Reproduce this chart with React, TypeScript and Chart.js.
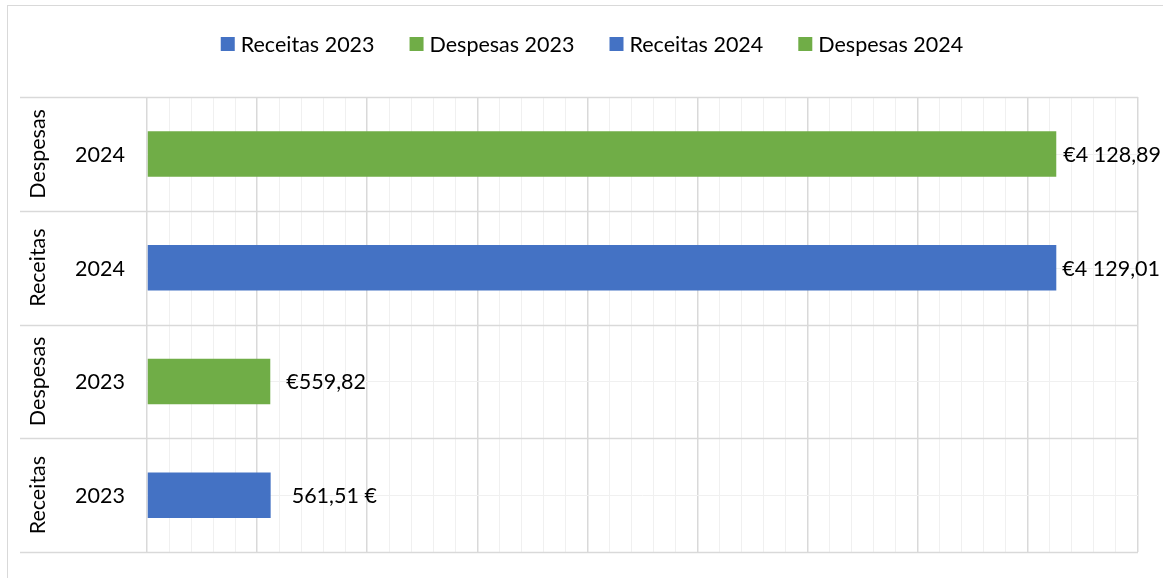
import React, { useEffect, useRef } from "react";
import { Chart, registerables } from "chart.js";

Chart.register(...registerables);

// Categories listed from bottom to top of the chart
const groups = ["Receitas", "Despesas", "Receitas", "Despesas"];
const years = ["2023", "2023", "2024", "2024"];
const values = [561.51, 559.82, 4129.01, 4128.89];
const valueLabels = ["561,51 €", "€559,82", "€4 129,01", "€4 128,89"];
const seriesNames = ["Receitas 2023", "Despesas 2023", "Receitas 2024", "Despesas 2024"];
const seriesColors = ["#4472C4", "#70AD47", "#4472C4", "#70AD47"];
const labelOffsets = [21, 16, 6, 7];

const FONT_FAMILY = "Lato, 'Open Sans', sans-serif";
const FONT_SIZE = 21.5;
const TEXT_COLOR = "#000000";

const decorPlugin = {
  id: "decor",
  beforeDraw(chart: any) {
    const ctx = chart.ctx;
    ctx.save();
    ctx.strokeStyle = "#d9d9d9";
    ctx.lineWidth = 1;
    ctx.strokeRect(7.5, 5.5, 1300, 700);
    ctx.restore();
  },
  beforeDatasetsDraw(chart: any) {
    const ctx = chart.ctx;
    const area = chart.chartArea;
    const y = chart.scales.y;
    const n = groups.length;
    const step = (area.bottom - area.top) / n;
    ctx.save();
    ctx.lineWidth = 1;
    // minor lines at category centers
    ctx.strokeStyle = "#f0f0f0";
    for (let i = 0; i < n; i++) {
      const cy = Math.round(y.getPixelForValue(i)) + 0.5;
      ctx.beginPath();
      ctx.moveTo(area.left, cy);
      ctx.lineTo(area.right, cy);
      ctx.stroke();
    }
    // category separators extending into label area
    ctx.strokeStyle = "#d9d9d9";
    ctx.lineWidth = 1.5;
    for (let i = 0; i <= n; i++) {
      const ly = Math.round(area.top + i * step) + 0.5;
      ctx.beginPath();
      ctx.moveTo(20, ly);
      ctx.lineTo(area.right, ly);
      ctx.stroke();
    }
    ctx.restore();
  },
  afterDraw(chart: any) {
    const ctx = chart.ctx;
    const y = chart.scales.y;
    ctx.save();
    ctx.font = `${FONT_SIZE}px ${FONT_FAMILY}`;
    ctx.fillStyle = TEXT_COLOR;
    ctx.textBaseline = "middle";
    // category labels
    for (let i = 0; i < groups.length; i++) {
      const cy = y.getPixelForValue(i);
      ctx.textAlign = "center";
      ctx.fillText(years[i], 100, cy + 1);
      ctx.save();
      ctx.translate(38, cy);
      ctx.rotate(-Math.PI / 2);
      ctx.textAlign = "center";
      ctx.fillText(groups[i], 0, 0);
      ctx.restore();
    }
    // data labels
    ctx.textAlign = "left";
    chart.data.datasets.forEach((ds: any, di: number) => {
      const meta = chart.getDatasetMeta(di);
      meta.data.forEach((el: any, idx: number) => {
        if (ds.data[idx] == null) return;
        ctx.fillText(valueLabels[idx], el.x + labelOffsets[idx], el.y + 1);
      });
    });
    // legend
    const box = 14;
    const boxGap = 6;
    const itemGap = 35;
    const widths = seriesNames.map((s) => ctx.measureText(s).width);
    const total =
      widths.reduce((a, w) => a + box + boxGap + w, 0) + itemGap * (seriesNames.length - 1);
    let x = 592 - total / 2;
    const ly = 44;
    seriesNames.forEach((s, i) => {
      ctx.fillStyle = seriesColors[i];
      ctx.fillRect(x, ly - box / 2, box, box);
      x += box + boxGap;
      ctx.fillStyle = TEXT_COLOR;
      ctx.fillText(s, x, ly + 1);
      x += widths[i] + itemGap;
    });
    ctx.restore();
  },
};

export default function App() {
  const canvasRef = useRef<HTMLCanvasElement | null>(null);

  useEffect(() => {
    if (!canvasRef.current) return;
    const datasets = seriesNames.map((name, i) => ({
      label: name,
      data: values.map((v, j) => (j === i ? v : null)),
      backgroundColor: seriesColors[i],
      borderWidth: 0,
      grouped: false,
      categoryPercentage: 1,
      barPercentage: 0.4,
    }));
    const chart = new Chart(canvasRef.current, {
      type: "bar",
      data: {
        labels: groups.map((g, i) => `${g} ${years[i]}`),
        datasets,
      },
      options: {
        indexAxis: "y",
        responsive: false,
        animation: false,
        layout: { padding: { left: 147, right: 25, top: 97, bottom: 26 } },
        plugins: {
          legend: { display: false },
          tooltip: { enabled: false },
        },
        scales: {
          x: {
            min: 0,
            max: 4500,
            ticks: { display: false, stepSize: 100 },
            border: { display: false },
            grid: {
              drawTicks: false,
              color: (c: any) => (c.tick && c.tick.value % 500 === 0 ? "#d9d9d9" : "#f0f0f0"),
              lineWidth: (c: any) => (c.tick && c.tick.value % 500 === 0 ? 1.5 : 1),
            },
            afterFit: (s: any) => {
              s.height = 0;
            },
          },
          y: {
            reverse: true,
            ticks: { display: false },
            border: { display: false },
            grid: { display: false },
            afterFit: (s: any) => {
              s.width = 0;
            },
          },
        },
      },
      plugins: [decorPlugin],
    } as any);
    return () => chart.destroy();
  }, []);

  return (
    <div style={{ position: "absolute", left: 0, top: 0, width: 1163, height: 578, background: "#fff" }}>
      <canvas ref={canvasRef} width={1163} height={578} />
    </div>
  );
}
